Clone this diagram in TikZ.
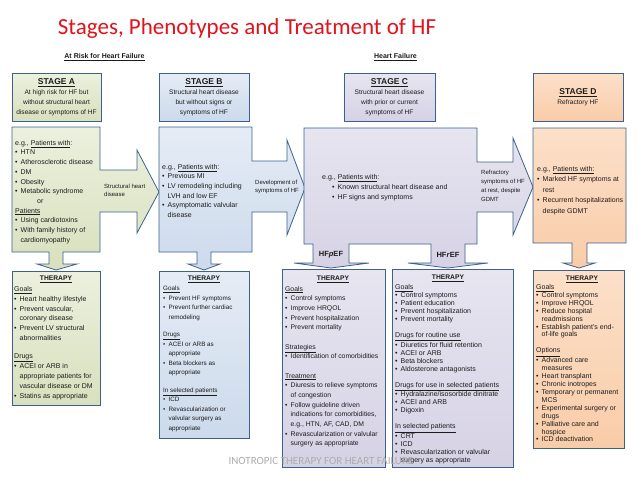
\documentclass[tikz,border=0pt]{standalone}
\usepackage{fontspec}
\setmainfont{Liberation Sans}
\newfontfamily\titlefont{Carlito}
\definecolor{edge}{HTML}{3D618C}
\definecolor{aTop}{HTML}{ECF0DE}
\definecolor{aBot}{HTML}{D8E0BD}
\definecolor{bTop}{HTML}{E5ECF5}
\definecolor{bBot}{HTML}{CCDAEC}
\definecolor{cTop}{HTML}{E7E5F0}
\definecolor{cBot}{HTML}{D6D2E5}
\definecolor{dTop}{HTML}{FCE0C9}
\definecolor{dBot}{HTML}{F9CCA8}
\definecolor{ink}{HTML}{1C1C1C}
\definecolor{titlered}{HTML}{E0121B}
\newcommand{\hfbul}{\makebox[5.5pt][l]{\textbullet}}
\newcommand{\hfind}{\hspace*{5.5pt}}
\newcommand{\stgfont}{\fontsize{8.5}{10}\selectfont\bfseries}
\begin{document}
\begin{tikzpicture}[x=1pt,y=-1pt,
  every node/.style={text=ink},
  shA/.style={draw=edge,line width=0.8pt,top color=aTop,bottom color=aBot},
  shB/.style={draw=edge,line width=0.8pt,top color=bTop,bottom color=bBot},
  shC/.style={draw=edge,line width=0.8pt,top color=cTop,bottom color=cBot},
  shD/.style={draw=edge,line width=0.8pt,top color=dTop,bottom color=dBot},
  hdr/.style={minimum width=90pt,minimum height=48pt,align=center,inner sep=0pt,font=\fontsize{6.6}{10}\selectfont},
  txt/.style={anchor=north west,inner sep=0pt,align=left,font=\fontsize{7}{9.7}\selectfont},
  ttl/.style={inner sep=0pt,font=\fontsize{6.7}{9}\selectfont\bfseries}]
\useasboundingbox (0,0) rectangle (638,479);
\node[font=\titlefont\fontsize{23}{26}\selectfont,text=titlered] (title) at (247,28) {Stages, Phenotypes and Treatment of HF};
\node[font=\fontsize{7}{9}\selectfont\bfseries] (risk) at (104.5,57) {\underline{At Risk for Heart Failure}};
\node[font=\fontsize{7}{9}\selectfont\bfseries] (fail) at (395.5,57) {\underline{Heart Failure}};
\node[hdr,shA,minimum width=89pt] (hA) at (56.5,97) {{\stgfont\underline{STAGE A}}\\At high risk for HF but\\without structural heart\\disease or symptoms of HF};
\node[hdr,shB] (hB) at (204,97) {{\stgfont\underline{STAGE B}}\\Structural heart disease\\but without signs or\\symptoms of HF};
\node[hdr,shC,minimum width=91pt] (hC) at (389.5,97) {{\stgfont\underline{STAGE C}}\\Structural heart disease\\with prior or current\\symptoms of HF};
\node[hdr,shD] (hD) at (578,97) {{\stgfont\underline{STAGE D}}\\Refractory HF};
\draw[shA] (12,127) -- (100,127) -- (100,170) -- (137,170) -- (137,150) -- (159,192) -- (137,233) -- (137,212) -- (100,212) -- (100,252) -- (63,252) -- (63,264) -- (77,264) -- (56,270) -- (37,264) -- (49,264) -- (49,252) -- (12,252) -- cycle;
\draw[shB] (159,127) -- (252,127) -- (252,161) -- (287,161) -- (287,140) -- (305,188) -- (287,235) -- (287,212) -- (252,212) -- (252,252) -- (211,252) -- (211,264) -- (220,264) -- (204,270) -- (188,264) -- (197,264) -- (197,252) -- (159,252) -- cycle;
\draw[shC] (304,128) -- (477,128) -- (477,162) -- (513,162) -- (513,138) -- (533,187) -- (513,235) -- (513,212) -- (477,212) -- (477,244) -- (465,244) -- (465,263) -- (488,263) -- (448,268) -- (408,263) -- (431,263) -- (431,244) -- (349,244) -- (349,263) -- (369,263) -- (331,268) -- (294,263) -- (313,263) -- (313,244) -- (304,244) -- cycle;
\draw[shD] (533,128) -- (626,128) -- (626,243) -- (587,243) -- (587,263) -- (595,263) -- (579,268) -- (563,263) -- (572,263) -- (572,243) -- (533,243) -- cycle;
\node[txt] (tA) at (15,140) {e.g., \underline{Patients with}:\\ \hfbul HTN\\ \hfbul Atherosclerotic disease\\ \hfbul DM\\ \hfbul Obesity\\ \hfbul Metabolic syndrome\\ \hspace*{22pt}or\\ \underline{Patients}\\ \hfbul Using cardiotoxins\\ \hfbul With family history of\\ \hfind cardiomyopathy};
\node[txt,font=\fontsize{6}{8}\selectfont] (lA) at (104,184) {Structural heart\\disease};
\node[txt,font=\fontsize{7}{9.6}\selectfont] (tB) at (162,164) {e.g., \underline{Patients with}:\\ \hfbul Previous MI\\ \hfbul LV remodeling including\\ \hfind LVH and low EF\\ \hfbul Asymptomatic valvular\\ \hfind disease};
\node[txt,font=\fontsize{6}{8}\selectfont] (lB) at (255,180) {Development of\\symptoms of HF};
\node[txt,font=\fontsize{7}{10}\selectfont] (tC) at (322,174) {e.g., \underline{Patients with}:\\ \hspace*{10pt}\hfbul Known structural heart disease and\\ \hspace*{10pt}\hfbul HF signs and symptoms};
\node[txt,font=\fontsize{6}{9}\selectfont] (lC) at (481,170) {Refractory\\symptoms of HF\\at rest, despite\\GDMT};
\node[txt,font=\fontsize{7}{10.5}\selectfont] (tD) at (537,166) {e.g., \underline{Patients with:}\\ \hfbul Marked HF symptoms at\\ \hfind rest\\ \hfbul Recurrent hospitalizations\\ \hfind despite GDMT};
\node[font=\fontsize{7.5}{9}\selectfont\bfseries] (pEF) at (331,255) {HF\textit{p}EF};
\node[font=\fontsize{7.5}{9}\selectfont\bfseries] (rEF) at (448,255) {HF\textit{r}EF};
\draw[shA] (12,271) rectangle (100,405);
\draw[shB] (159,271) rectangle (249,438);
\draw[shC] (282,269) rectangle (385,467);
\draw[shC] (392,269) rectangle (513,467);
\draw[shD] (533,270) rectangle (624,448);
\node[ttl] (thA) at (56,279) {\underline{THERAPY}};
\node[ttl] (thB) at (204,279) {\underline{THERAPY}};
\node[ttl] (thC) at (333,279) {\underline{THERAPY}};
\node[ttl] (thR) at (448,278) {\underline{THERAPY}};
\node[ttl] (thD) at (582,279) {\underline{THERAPY}};
\node[txt,font=\fontsize{7}{9.9}\selectfont] (gA) at (14,286) {\underline{Goals}\\ \hfbul Heart healthy lifestyle\\ \hfbul Prevent vascular,\\ \hfind coronary disease\\ \hfbul Prevent LV structural\\ \hfind abnormalities\\[8pt] \underline{Drugs}\\ \hfbul ACEI or ARB in\\ \hfind appropriate patients for\\ \hfind vascular disease or DM\\ \hfbul Statins as appropriate};
\node[txt,font=\fontsize{6.3}{9.5}\selectfont] (gB) at (163,286) {\underline{Goals}\\ \hfbul Prevent HF symptoms\\ \hfbul Prevent further cardiac\\ \hfind remodeling\\[8pt] \underline{Drugs}\\ \hfbul ACEI or ARB as\\ \hfind appropriate\\ \hfbul Beta blockers as\\ \hfind appropriate\\[8pt] \underline{In selected patients}\\ \hfbul ICD\\ \hfbul Revascularization or\\ \hfind valvular surgery as\\ \hfind appropriate};
\node[txt,font=\fontsize{6.8}{9.7}\selectfont] (gC) at (285,286) {\underline{Goals}\\ \hfbul Control symptoms\\ \hfbul Improve HRQOL\\ \hfbul Prevent hospitalization\\ \hfbul Prevent mortality\\[9.5pt] \underline{Strategies}\\ \hfbul Identification of comorbidities\\[9.5pt] \underline{Treatment}\\ \hfbul Diuresis to relieve symptoms\\ \hfind of congestion\\ \hfbul Follow guideline driven\\ \hfind indications for comorbidities,\\ \hfind e.g., HTN, AF, CAD, DM\\ \hfbul Revascularization or valvular\\ \hfind surgery as appropriate};
\node[txt,font=\fontsize{7}{8.05}\selectfont] (gR) at (395,284) {\underline{Goals}\\ \hfbul Control symptoms\\ \hfbul Patient education\\ \hfbul Prevent hospitalization\\ \hfbul Prevent mortality\\[8pt] \underline{Drugs for routine use}\\ \hfbul Diuretics for fluid retention\\ \hfbul ACEI or ARB\\ \hfbul Beta blockers\\ \hfbul Aldosterone antagonists\\[8pt] \underline{Drugs for use in selected patients}\\ \hfbul Hydralazine/isosorbide dinitrate\\ \hfbul ACEI and ARB\\ \hfbul Digoxin\\[8pt] \underline{In selected patients}\\ \hfbul CRT\\ \hfbul ICD\\ \hfbul Revascularization or valvular\\ \hfind surgery as appropriate};
\node[txt,font=\fontsize{7}{7.95}\selectfont] (gD) at (536,284) {\underline{Goals}\\ \hfbul Control symptoms\\ \hfbul Improve HRQOL\\ \hfbul Reduce hospital\\ \hfind readmissions\\ \hfbul Establish patient's end-\\ \hfind of-life goals\\[8pt] \underline{Options}\\ \hfbul Advanced care\\ \hfind measures\\ \hfbul Heart transplant\\ \hfbul Chronic inotropes\\ \hfbul Temporary or permanent\\ \hfind MCS\\ \hfbul Experimental surgery or\\ \hfind drugs\\ \hfbul Palliative care and\\ \hfind hospice\\ \hfbul ICD deactivation};
\node[anchor=west,font=\titlefont\fontsize{11}{12}\selectfont,text=gray!65] (foot) at (225,461) {INOTROPIC THERAPY FOR HEART FAILURE};
\end{tikzpicture}
\end{document}
